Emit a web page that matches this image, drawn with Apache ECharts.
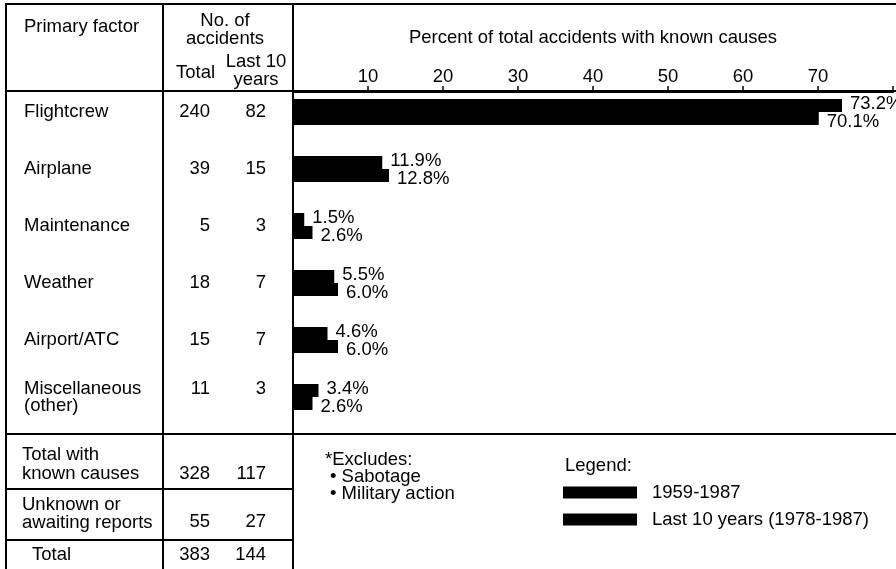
<!DOCTYPE html>
<html>
<head>
<meta charset="utf-8">
<script src="https://cdn.jsdelivr.net/npm/echarts@6/dist/echarts.min.js"></script>
<style>
html,body{margin:0;padding:0;background:#fff;}
#c{width:896px;height:569px;}
</style>
</head>
<body>
<div id="c"></div>
<script>
// ---- data ----
const categories = ['Flightcrew', 'Airplane', 'Maintenance', 'Weather', 'Airport/ATC', 'Miscellaneous\n(other)'];
const pctAll = [73.2, 11.9, 1.5, 5.5, 4.6, 3.4];
const pctLast10 = [70.1, 12.8, 2.6, 6.0, 6.0, 2.6];
const countTotal = [240, 39, 5, 18, 15, 11];
const countLast10 = [82, 15, 3, 7, 7, 3];
const summaryLabels = [['Total with', 'known causes'], ['Unknown or', 'awaiting reports'], ['Total']];
const summaryTotal = [328, 55, 383];
const summaryLast10 = [117, 27, 144];
const seriesNames = ['1959-1987', 'Last 10 years (1978-1987)'];
const axisTitle = 'Percent of total accidents with known causes';
const excludes = ['*Excludes:', '\u2022 Sabotage', '\u2022 Military action'];

const FONT = '"Liberation Sans", Arial, Helvetica, sans-serif';
const FS = 18.5;

function txt(x, y, text, align) {
  return {
    type: 'text', x: x, y: y, silent: true,
    style: {
      text: text, fill: '#000', fontSize: FS, fontFamily: FONT,
      textAlign: align || 'left', textVerticalAlign: 'middle',
      align: align || 'left', verticalAlign: 'middle'
    }
  };
}
function ln(x1, y1, x2, y2) {
  return { type: 'line', silent: true, shape: { x1, y1, x2, y2 }, style: { stroke: '#000', lineWidth: 2 } };
}

const graphics = [
  ln(5, 4, 896, 4),
  ln(5, 91, 896, 91),
  ln(5, 434, 896, 434),
  ln(5, 489, 293, 489),
  ln(5, 540, 293, 540),
  ln(6, 3, 6, 569),
  ln(163, 3, 163, 569),
  ln(293, 3, 293, 569),
  txt(24, 27, 'Primary factor'),
  txt(225, 21, 'No. of', 'center'),
  txt(225, 39, 'accidents', 'center'),
  txt(176, 73, 'Total'),
  txt(256, 62, 'Last 10', 'center'),
  txt(256, 80, 'years', 'center'),
  txt(325, 460, excludes[0]),
  txt(330, 477, excludes[1]),
  txt(330, 494, excludes[2]),
  txt(565, 466, 'Legend:')
];
// summary rows
const sumY = [[455, 474], [505, 523], [555]];
const sumNumY = [474, 522, 555];
summaryLabels.forEach((lines, i) => {
  lines.forEach((t, j) => graphics.push(txt(i === 2 ? 32 : 22, sumY[i][j], t)));
  graphics.push(txt(210, sumNumY[i], String(summaryTotal[i]), 'right'));
  graphics.push(txt(266, sumNumY[i], String(summaryLast10[i]), 'right'));
});

const chart = echarts.init(document.getElementById('c'), null, { renderer: 'canvas' });
const labelFmt = p => p.value.toFixed(1) + '%';

chart.setOption({
  animation: false,
  backgroundColor: '#fff',
  textStyle: { fontFamily: FONT, color: '#000' },
  grid: { left: 293, right: 0, top: 83.5, height: 342, containLabel: false },
  legend: {
    orient: 'vertical', left: 563, top: 483, padding: 0,
    icon: 'rect', itemWidth: 74, itemHeight: 12, itemGap: 8,
    textStyle: { fontSize: FS, fontFamily: FONT, color: '#000', padding: [0, 0, 0, 10] },
    selectedMode: false,
    data: seriesNames
  },
  xAxis: {
    type: 'value', position: 'top', offset: -8.5,
    min: 0, max: 80, interval: 10,
    name: axisTitle, nameLocation: 'middle', nameGap: 45,
    nameTextStyle: { fontSize: FS, fontFamily: FONT, color: '#000' },
    axisLine: { show: true, lineStyle: { color: '#000', width: 2 } },
    axisTick: { show: true, length: 6, lineStyle: { color: '#000', width: 1.5 } },
    axisLabel: {
      fontSize: FS, fontFamily: FONT, color: '#000', margin: 6,
      formatter: v => (v === 0 || v === 80) ? '' : String(v)
    },
    splitLine: { show: false }
  },
  yAxis: {
    type: 'category', inverse: true, data: categories,
    axisLine: { show: false }, axisTick: { show: false },
    axisLabel: {
      margin: 269, align: 'left', color: '#000', fontSize: FS, fontFamily: FONT,
      formatter: (value, idx) => {
        const lines = value.split('\n');
        let s = '{n|' + lines[0] + '}{t|' + countTotal[idx] + '}{l|' + countLast10[idx] + '}';
        for (let k = 1; k < lines.length; k++) s += '\n{n|' + lines[k] + '}';
        return s;
      },
      rich: {
        n: { width: 139, fontSize: FS, fontFamily: FONT, color: '#000', lineHeight: 17, align: 'left' },
        t: { width: 47, fontSize: FS, fontFamily: FONT, color: '#000', lineHeight: 17, align: 'right' },
        l: { width: 56, fontSize: FS, fontFamily: FONT, color: '#000', lineHeight: 17, align: 'right' }
      }
    }
  },
  series: [
    {
      name: seriesNames[0], type: 'bar', data: pctAll,
      barWidth: 13, barGap: '0%',
      itemStyle: { color: '#000' },
      label: { show: true, position: 'right', distance: 8, offset: [0, -2], formatter: labelFmt,
               fontSize: FS, fontFamily: FONT, color: '#000' }
    },
    {
      name: seriesNames[1], type: 'bar', data: pctLast10,
      barWidth: 13, barGap: '0%',
      itemStyle: { color: '#000' },
      label: { show: true, position: 'right', distance: 8, offset: [0, 3], formatter: labelFmt,
               fontSize: FS, fontFamily: FONT, color: '#000' }
    }
  ],
  graphic: graphics
});
</script>
</body>
</html>
